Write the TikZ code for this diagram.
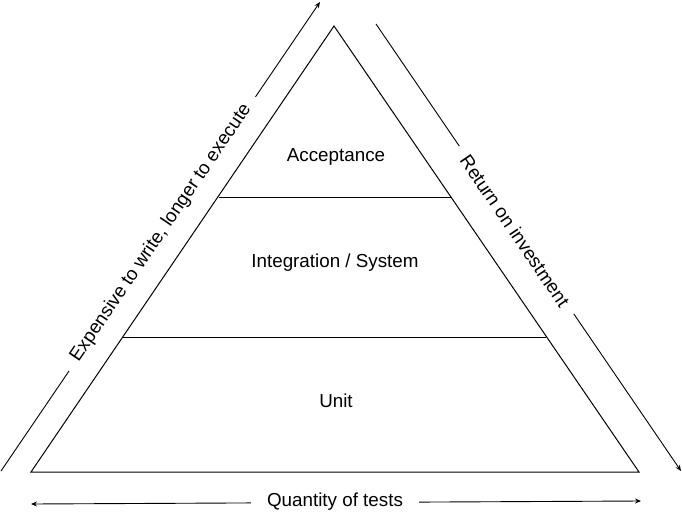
\documentclass[tikz,border=0pt]{standalone}
\usepackage{fontspec}
\setmainfont{Liberation Sans}
\usetikzlibrary{arrows.meta}
\begin{document}
\begin{tikzpicture}[x=1pt,y=-1pt,
  edge/.style={line width=1pt,draw=black},
  arr/.style={line width=0.9pt,-{Stealth[length=6pt,width=5pt]}},
  lbl/.style={font=\fontsize{18.8}{22}\selectfont,inner sep=0pt},
  gaplbl/.style={font=\fontsize{18.8}{22}\selectfont,fill=white,inner xsep=12pt,inner ysep=4pt}]
\useasboundingbox (0,0) rectangle (682,517);
% triangle
\coordinate (apex) at (334,26);
\coordinate (bl) at (31,472);
\coordinate (br) at (639,472);
\draw[edge,line join=miter] (apex) -- (bl) -- (br) -- cycle;
\coordinate (a1) at (218.5,197);
\coordinate (a2) at (451.5,197);
\coordinate (b1) at (123,337);
\coordinate (b2) at (546,337);
\draw[edge] (a1) -- (a2);
\draw[edge] (b1) -- (b2);
\node[lbl] (acc) at (336,157) {Acceptance};
\node[lbl] (int) at (335,263) {Integration / System};
\node[lbl] (unit) at (336,401) {Unit};
% left arrow
\coordinate (ls) at (1,471);
\coordinate (le) at (320,2);
\draw[arr] (ls) -- (le);
\node[gaplbl,rotate=55.8] (exp) at (161,233) {Expensive to write, longer to execute};
% right arrow
\coordinate (rs) at (376,24);
\coordinate (re) at (681,471);
\draw[arr] (rs) -- (re);
\node[gaplbl,rotate=-55.7] (roi) at (515,231) {Return on investment};
% bottom arrow
\coordinate (qs) at (31,504);
\coordinate (qe) at (641,501);
\draw[line width=0.9pt,{Stealth[length=6pt,width=5pt]}-{Stealth[length=6pt,width=5pt]}] (qs) -- (qe);
\node[gaplbl,inner xsep=16pt] (qty) at (335,502) {Quantity of tests};
\end{tikzpicture}
\end{document}
